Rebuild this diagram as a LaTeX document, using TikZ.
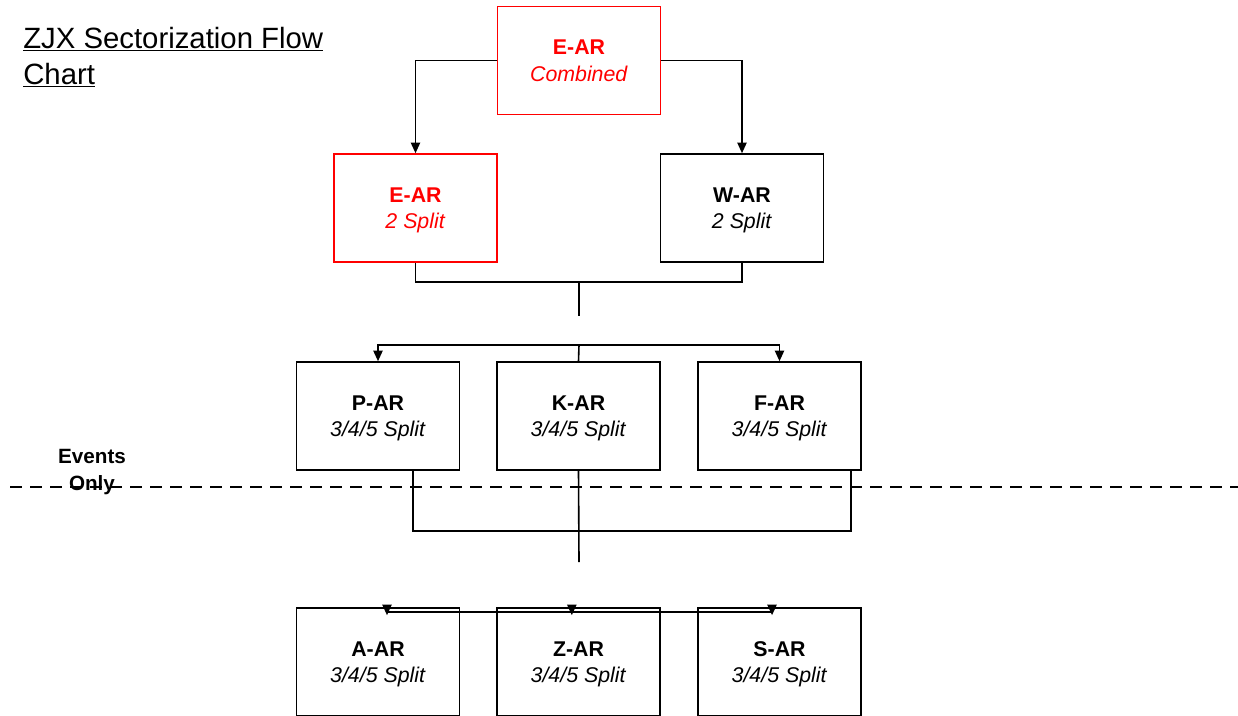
\documentclass[tikz,border=0pt]{standalone}
\usepackage{fontspec}
\setmainfont{Liberation Sans}
\usetikzlibrary{arrows.meta}

\tikzset{
  box/.style={draw, line width=1.2pt, minimum width=122pt, minimum height=81pt,
    inner sep=0pt, align=center, text depth=0pt, font=\fontsize{16}{20}\selectfont},
  redbox/.style={box, draw=red, text=red},
  conn/.style={line width=1.2pt},
  arr/.style={conn, -{Triangle[length=8pt,width=7pt]}}
}

\begin{document}
\begin{tikzpicture}[x=0.75pt,y=0.75pt,yscale=-1,xscale=1]

            \useasboundingbox (0,0) rectangle (1238,715);

            % Title
            \node [anchor=base west, inner sep=0pt, font=\fontsize{22}{27}\selectfont] (title1) at (23,48) {\underline{ZJX Sectorization Flow}};
            \node [anchor=base west, inner sep=0pt, font=\fontsize{22}{27}\selectfont] (title2) at (23,84) {\underline{Chart}};

            % Events line
            \coordinate (dl) at (10,487);
            \coordinate (dr) at (1238,487);
            \draw [conn, dash pattern=on 9pt off 6pt] (dl) -- (dr);
            \node [align=center, inner sep=0pt, font=\bfseries\fontsize{15.5}{20}\selectfont] (events) at (92,472) {Events\\Only};

            % Boxes
            \node [redbox] (earc) at (579,60.5) {\textbf{E-AR}\\\textit{Combined}};
            \node [redbox] (ear2) at (415.5,208) {\textbf{E-AR}\\\textit{2 Split}};
            \node [box] (war) at (742,208) {\textbf{W-AR}\\\textit{2 Split}};

            \node [box] (par) at (378,416) {\textbf{P-AR}\\\textit{3/4/5 Split}};
            \node [box] (kar) at (578.5,416) {\textbf{K-AR}\\\textit{3/4/5 Split}};
            \node [box] (far) at (779.5,416) {\textbf{F-AR}\\\textit{3/4/5 Split}};

            \node [box] (aar) at (378,662) {\textbf{A-AR}\\\textit{3/4/5 Split}};
            \node [box] (zar) at (578.5,662) {\textbf{Z-AR}\\\textit{3/4/5 Split}};
            \node [box] (sar) at (779.5,662) {\textbf{S-AR}\\\textit{3/4/5 Split}};

            % Connectors
            \draw [arr] (earc.west) -| (ear2.north);
            \draw [arr] (earc.east) -| (war.north);

            \coordinate (j1) at (579,282);
            \coordinate (j1end) at (579,316);
            \draw [conn] (ear2.south) |- (j1) -| (war.south);
            \draw [conn] (j1) -- (j1end);

            \coordinate (j2) at (579,345);
            \draw [arr] (j2) -| (par.north);
            \draw [arr] (j2) -| (far.north);
            \draw [conn] (j2) -- (kar.north);

            \coordinate (j3) at (579,531);
            \coordinate (j3end) at (579,562);
            \draw [conn] ([xshift=26.25pt]par.south) |- (j3) -| ([xshift=53.6pt]far.south);
            \draw [conn] (kar.south) -- (j3end);

            \coordinate (j4) at (579,612);
            \draw [arr] (j4) -| ([xshift=6.75pt,yshift=6pt]aar.north);
            \draw [arr] (j4) -| ([xshift=-5pt,yshift=6pt]zar.north);
            \draw [arr] (j4) -| ([xshift=-5.6pt,yshift=6pt]sar.north);

\end{tikzpicture}
\end{document}
